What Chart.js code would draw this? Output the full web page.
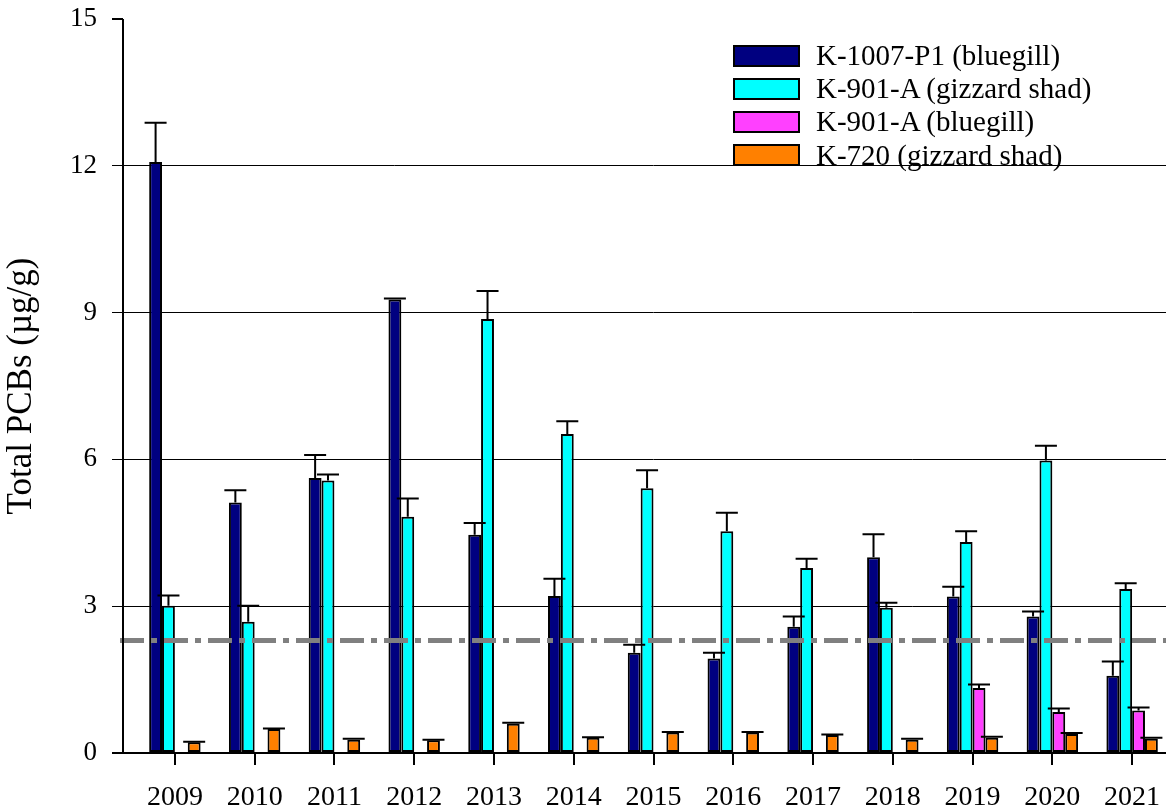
<!DOCTYPE html>
<html>
<head>
<meta charset="utf-8">
<script src="https://cdn.jsdelivr.net/npm/chart.js@4.4.1/dist/chart.umd.min.js"></script>
<style>
  body { margin: 0; overflow: hidden; background: #fff; }
  #wrap { position: relative; width: 1172px; height: 807px; }
  #legend { position: absolute; left: 733px; top: 39px; font: 29px "Liberation Serif", serif; color: #000; }
  .item { display: flex; align-items: center; height: 33.2px; white-space: nowrap; }
  .box { width: 63px; height: 18px; border: 2px solid #000; margin-right: 16px; }
</style>
</head>
<body>
<div id="wrap">
  <canvas id="chartPcb"></canvas>
  <div id="legend"></div>
</div>
<script>
// values (µg/g), error = upper bar length
const years = ['2009', '2010', '2011', '2012', '2013', '2014', '2015', '2016', '2017', '2018', '2019', '2020', '2021'];
const yTicks = [0, 3, 6, 9, 12, 15];

const k1007Bluegill = [12.08, 5.12, 5.62, 9.27, 4.46, 3.21, 2.05, 1.93, 2.58, 4.00, 3.20, 2.79, 1.58];
const k1007BluegillErr = [0.80, 0.25, 0.47, 0.02, 0.24, 0.35, 0.16, 0.12, 0.21, 0.47, 0.20, 0.10, 0.29];

const k901Shad = [3.01, 2.68, 5.57, 4.83, 8.87, 6.52, 5.41, 4.53, 3.78, 2.97, 4.31, 5.98, 3.35];
const k901ShadErr = [0.21, 0.33, 0.12, 0.37, 0.57, 0.26, 0.37, 0.38, 0.19, 0.10, 0.22, 0.30, 0.12];

const k901Bluegill = [null, null, null, null, null, null, null, null, null, null, 1.33, 0.84, 0.87];
const k901BluegillErr = [null, null, null, null, null, null, null, null, null, null, 0.07, 0.07, 0.06];

const k720Shad = [0.22, 0.49, 0.27, 0.26, 0.60, 0.31, 0.42, 0.42, 0.37, 0.27, 0.31, 0.39, 0.29];
const k720ShadErr = [0.01, 0.01, 0.02, 0.01, 0.02, 0.01, 0.01, 0.01, 0.01, 0.02, 0.02, 0.02, 0.02];

const refLevel = 2.3;

const errors = [k1007BluegillErr, k901ShadErr, k901BluegillErr, k720ShadErr];
const serif = '"Liberation Serif", "Times New Roman", serif';

const bar = (label, data, color) => ({
    label, data,
    backgroundColor: color,
    borderColor: '#000',
    borderWidth: 2,
    borderSkipped: false,
    categoryPercentage: 0.645,
    barPercentage: 1
});

// error bars, reference line and the y axis line
const extras = {
    id: 'extras',
    afterDatasetsDraw(chart) {
        const { ctx, chartArea, scales: { y } } = chart;
        ctx.save();

        // dash-dot reference line
        const ry = y.getPixelForValue(refLevel);
        ctx.strokeStyle = '#808080';
        ctx.lineWidth = 5;
        ctx.setLineDash([24, 7, 6, 7]);
        ctx.beginPath();
        ctx.moveTo(chartArea.left - 15, ry);
        ctx.lineTo(chart.width, ry);
        ctx.stroke();
        ctx.setLineDash([]);

        ctx.strokeStyle = '#000';
        ctx.lineWidth = 2;
        chart.data.datasets.forEach((ds, i) => {
            chart.getDatasetMeta(i).data.forEach((el, j) => {
                const v = ds.data[j], e = errors[i][j];
                if (v == null || e == null) return;
                const top = y.getPixelForValue(v + e);
                ctx.beginPath();
                ctx.moveTo(el.x, el.y);
                ctx.lineTo(el.x, top);
                ctx.moveTo(el.x - 11, top);
                ctx.lineTo(el.x + 11, top);
                ctx.stroke();
            });
        });

        // y axis sits a little left of the first group
        const ax = chartArea.left - 12;
        ctx.beginPath();
        ctx.moveTo(ax, chartArea.top);
        ctx.lineTo(ax, chartArea.bottom);
        ctx.moveTo(ax - 11, chartArea.top);
        ctx.lineTo(ax, chartArea.top);
        ctx.stroke();
        ctx.restore();
    }
};

const ctx = document.getElementById('chartPcb').getContext('2d');
const chartPcb = new Chart(ctx, {
    type: 'bar',
    data: {
        labels: years,
        datasets: [
            bar('K-1007-P1 (bluegill)', k1007Bluegill, '#000080'),
            bar('K-901-A (gizzard shad)', k901Shad, '#00ffff'),
            bar('K-901-A (bluegill)', k901Bluegill, '#ff40ff'),
            bar('K-720 (gizzard shad)', k720Shad, '#ff8000')
        ]
    },
    options: {
        responsive: true,
        maintainAspectRatio: false,
        animation: false,
        layout: { padding: { top: 19, right: 0, bottom: 0, left: 0 } },
        plugins: { legend: { display: false }, tooltip: { enabled: false } },
        scales: {
            x: {
                offset: true,
                afterFit: s => { s.height = 54; s.paddingLeft = 0; s.paddingRight = 0; },
                border: { display: false },
                grid: { offset: false, drawOnChartArea: false, drawTicks: true, tickLength: 12, color: '#000', lineWidth: 2 },
                ticks: { color: '#000', font: { family: serif, size: 28 }, padding: 16, maxRotation: 0, autoSkip: false }
            },
            y: {
                min: 0,
                max: 15,
                afterFit: s => { s.width = 135; s.paddingTop = 0; s.paddingBottom = 0; },
                afterBuildTicks: s => { s.ticks = yTicks.map(v => ({ value: v })); },
                border: { display: false },
                grid: {
                    color: c => c.tick && c.tick.value === 15 ? 'rgba(0,0,0,0)' : '#000',
                    tickColor: c => c.tick && c.tick.value === 15 ? 'rgba(0,0,0,0)' : '#000',
                    lineWidth: c => c.tick && c.tick.value === 0 ? 2 : 1,
                    tickLength: 23
                },
                ticks: { color: '#000', font: { family: serif, size: 27 }, padding: 15 },
                title: {
                    display: true,
                    text: 'Total PCBs (µg/g)',
                    color: '#000',
                    font: { family: serif, size: 35 },
                    padding: { top: 1, bottom: 0 }
                }
            }
        }
    },
    plugins: [extras]
});

// legend as html over the plot
const legendEl = document.getElementById('legend');
chartPcb.data.datasets.forEach(ds => {
    const row = document.createElement('div');
    row.className = 'item';
    const box = document.createElement('span');
    box.className = 'box';
    box.style.background = ds.backgroundColor;
    const txt = document.createElement('span');
    txt.textContent = ds.label;
    row.append(box, txt);
    legendEl.appendChild(row);
});
</script>
</body>
</html>
